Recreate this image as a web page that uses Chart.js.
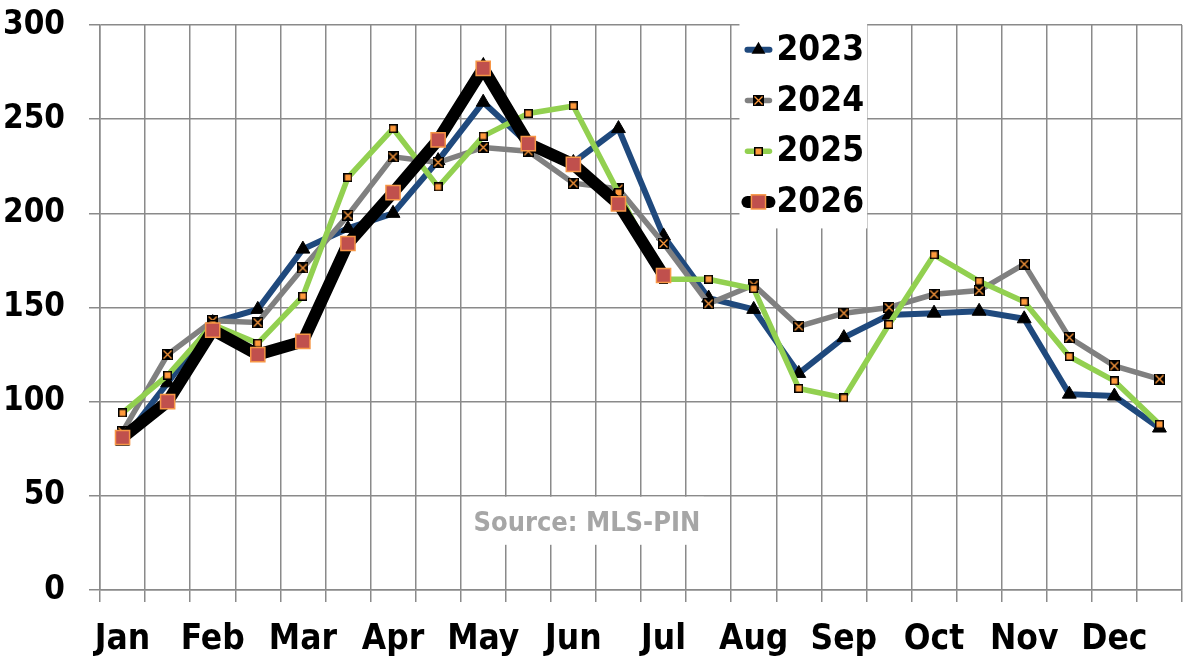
<!DOCTYPE html>
<html>
<head>
<meta charset="utf-8">
<script src="https://cdn.jsdelivr.net/npm/chart.js@4.4.1/dist/chart.umd.min.js"></script>
<style>
  html, body { margin: 0; padding: 0; background: #ffffff; }
  #wrap { width: 1197px; height: 659px; position: relative; }
</style>
</head>
<body>
<div id="wrap"><canvas id="c"></canvas></div>
<script>
// ---- data ----
const months = ['Jan','Feb','Mar','Apr','May','Jun','Jul','Aug','Sep','Oct','Nov','Dec'];
const periods = months.flatMap(m => [m + ' 1H', m + ' 2H']);
const yTicks = [0, 50, 100, 150, 200, 250, 300];
const seriesNames = ['2023', '2024', '2025', '2026'];
const values2023 = [79, 110, 142, 149, 181, 192, 200, 228, 259, 237, 227, 245, 188, 155, 149, 115, 134, 146, 147, 148, 144, 104, 103, 86];
const values2024 = [84, 125, 143, 142, 171, 199, 230, 227, 235, 233, 216, 213, 184, 152, 162, 140, 147, 150, 157, 159, 173, 134, 119, 112];
const values2025 = [94, 114, 141, 131, 156, 219, 245, 214, 241, 253, 257, 211, 165, 165, 160, 107, 102, 141, 178, 164, 153, 124, 111, 88];
const values2026 = [81, 100, 138, 125, 132, 184, 211, 239, 277, 237, 226, 205, 167, null, null, null, null, null, null, null, null, null, null, null];
const sourceText = 'Source: MLS-PIN';

// ---- styles ----
const FONT = "'DejaVu Sans Condensed', 'DejaVu Sans', 'Liberation Sans', sans-serif";
const ORANGE = '#FF9A3C';
const GRID = '#8a8a8a';

function markerXSquare() {
  const c = document.createElement('canvas');
  c.width = 11; c.height = 11;
  const g = c.getContext('2d');
  g.fillStyle = '#000'; g.fillRect(0, 0, 11, 11);
  g.strokeStyle = ORANGE; g.lineWidth = 1.3;
  g.beginPath(); g.moveTo(1.5, 1.5); g.lineTo(9.5, 9.5); g.moveTo(9.5, 1.5); g.lineTo(1.5, 9.5); g.stroke();
  return c;
}
function markerSmallSquare() {
  const c = document.createElement('canvas');
  c.width = 9; c.height = 9;
  const g = c.getContext('2d');
  g.fillStyle = '#000'; g.fillRect(0, 0, 9, 9);
  g.fillStyle = ORANGE; g.fillRect(1.5, 1.5, 6, 6);
  return c;
}

const datasets = [
  { label: seriesNames[0], data: values2023, borderColor: '#1F497D', borderWidth: 6,
    pointStyle: 'triangle', pointRadius: 8, pointBackgroundColor: '#000', pointBorderColor: '#000', pointBorderWidth: 1, order: 4 },
  { label: seriesNames[1], data: values2024, borderColor: '#808080', borderWidth: 5.5,
    pointStyle: markerXSquare(), pointRadius: 6, order: 3 },
  { label: seriesNames[2], data: values2025, borderColor: '#92D050', borderWidth: 5.5,
    pointStyle: markerSmallSquare(), pointRadius: 5, order: 2 },
  { label: seriesNames[3], data: values2026, borderColor: '#000000', borderWidth: 12,
    pointStyle: 'rect', pointRadius: 10, pointBackgroundColor: '#C0504D', pointBorderColor: '#F79646', pointBorderWidth: 1.5, order: 1 }
];
datasets.forEach(d => { d.tension = 0; d.fill = false; d.spanGaps = false; d.borderJoinStyle = 'miter'; d.backgroundColor = d.borderColor; });

function drawMarker(ctx, ds, x, y) {
  const ps = ds.pointStyle;
  if (ps instanceof HTMLCanvasElement) {
    ctx.drawImage(ps, Math.round(x - ps.width / 2), Math.round(y - ps.height / 2));
  } else if (ps === 'triangle') {
    const r = ds.pointRadius;
    ctx.fillStyle = ds.pointBackgroundColor;
    ctx.beginPath();
    ctx.moveTo(x, y - r);
    ctx.lineTo(x + r * Math.sin(Math.PI / 3), y + r * 0.5);
    ctx.lineTo(x - r * Math.sin(Math.PI / 3), y + r * 0.5);
    ctx.closePath(); ctx.fill();
  } else if (ps === 'rect') {
    const s = ds.pointRadius * Math.SQRT1_2;
    ctx.fillStyle = ds.pointBackgroundColor;
    ctx.fillRect(x - s, y - s, 2 * s, 2 * s);
    ctx.strokeStyle = ds.pointBorderColor; ctx.lineWidth = ds.pointBorderWidth;
    ctx.strokeRect(x - s, y - s, 2 * s, 2 * s);
  }
}

const overlayPlugin = {
  id: 'overlay',
  afterDraw(chart) {
    const ctx = chart.ctx;
    const a = chart.chartArea;
    const W = a.right - a.left, H = a.bottom - a.top;
    ctx.save();
    // Source note
    const sx0 = a.left + 0.342 * W, sx1 = a.left + 0.558 * W;
    const sy0 = a.top + 0.835 * H, sy1 = a.top + 0.92 * H;
    ctx.fillStyle = '#ffffff';
    ctx.fillRect(sx0, sy0, sx1 - sx0, sy1 - sy0);
    ctx.fillStyle = '#A6A6A6';
    ctx.font = "bold 27px " + FONT;
    ctx.textAlign = 'center'; ctx.textBaseline = 'middle';
    ctx.fillText(sourceText, (sx0 + sx1) / 2, a.top + 0.884 * H);

    // Legend
    const lx0 = a.left + 0.591 * W, lx1 = a.left + 0.709 * W;
    ctx.fillStyle = '#ffffff';
    ctx.fillRect(lx0, a.top - 5, lx1 - lx0, 0.36 * H + 5);
    chart.data.datasets.forEach((ds, i) => {
      const y = a.top + 0.044 * H + i * 0.0897 * H;
      const xs = lx0 + 8, xe = lx0 + 30;
      ctx.strokeStyle = ds.borderColor;
      ctx.lineWidth = ds.borderWidth;
      ctx.lineCap = 'round';
      ctx.beginPath(); ctx.moveTo(xs, y); ctx.lineTo(xe, y); ctx.stroke();
      drawMarker(ctx, ds, (xs + xe) / 2, y);
      ctx.fillStyle = '#000';
      ctx.font = "bold 35px " + FONT;
      ctx.textAlign = 'left'; ctx.textBaseline = 'middle';
      ctx.fillText(ds.label, lx0 + 37, y + 1);
    });
    ctx.restore();
  }
};

new Chart(document.getElementById('c'), {
  type: 'line',
  data: { labels: periods, datasets: datasets },
  options: {
    responsive: true,
    maintainAspectRatio: false,
    animation: false,
    layout: { padding: { top: 25, right: 15, bottom: 0, left: 0 } },
    plugins: { legend: { display: false }, tooltip: { enabled: false } },
    scales: {
      x: {
        type: 'category',
        offset: true,
        grid: { offset: true, color: GRID, lineWidth: 1.5, tickLength: 12, drawTicks: true },
        border: { color: GRID, width: 1.5 },
        ticks: {
          autoSkip: false, maxRotation: 0, minRotation: 0, padding: 17,
          color: '#000', font: { family: FONT, size: 35, weight: 'bold' },
          callback: (v, i) => (i % 2 === 0 ? months[i / 2] : '')
        },
        afterFit: (s) => { s.height = 69; s.paddingLeft = 0; s.paddingRight = 0; }
      },
      y: {
        min: yTicks[0], max: yTicks[yTicks.length - 1],
        afterBuildTicks: (s) => { s.ticks = yTicks.map(v => ({ value: v })); },
        grid: { color: GRID, lineWidth: 1.5, tickLength: 11 },
        border: { color: GRID, width: 1.5 },
        ticks: { padding: 24, color: '#000', font: { family: FONT, size: 33, weight: 'bold' } },
        afterFit: (s) => { s.width = 100; s.paddingTop = 0; s.paddingBottom = 0; }
      }
    }
  },
  plugins: [overlayPlugin]
});
</script>
</body>
</html>
